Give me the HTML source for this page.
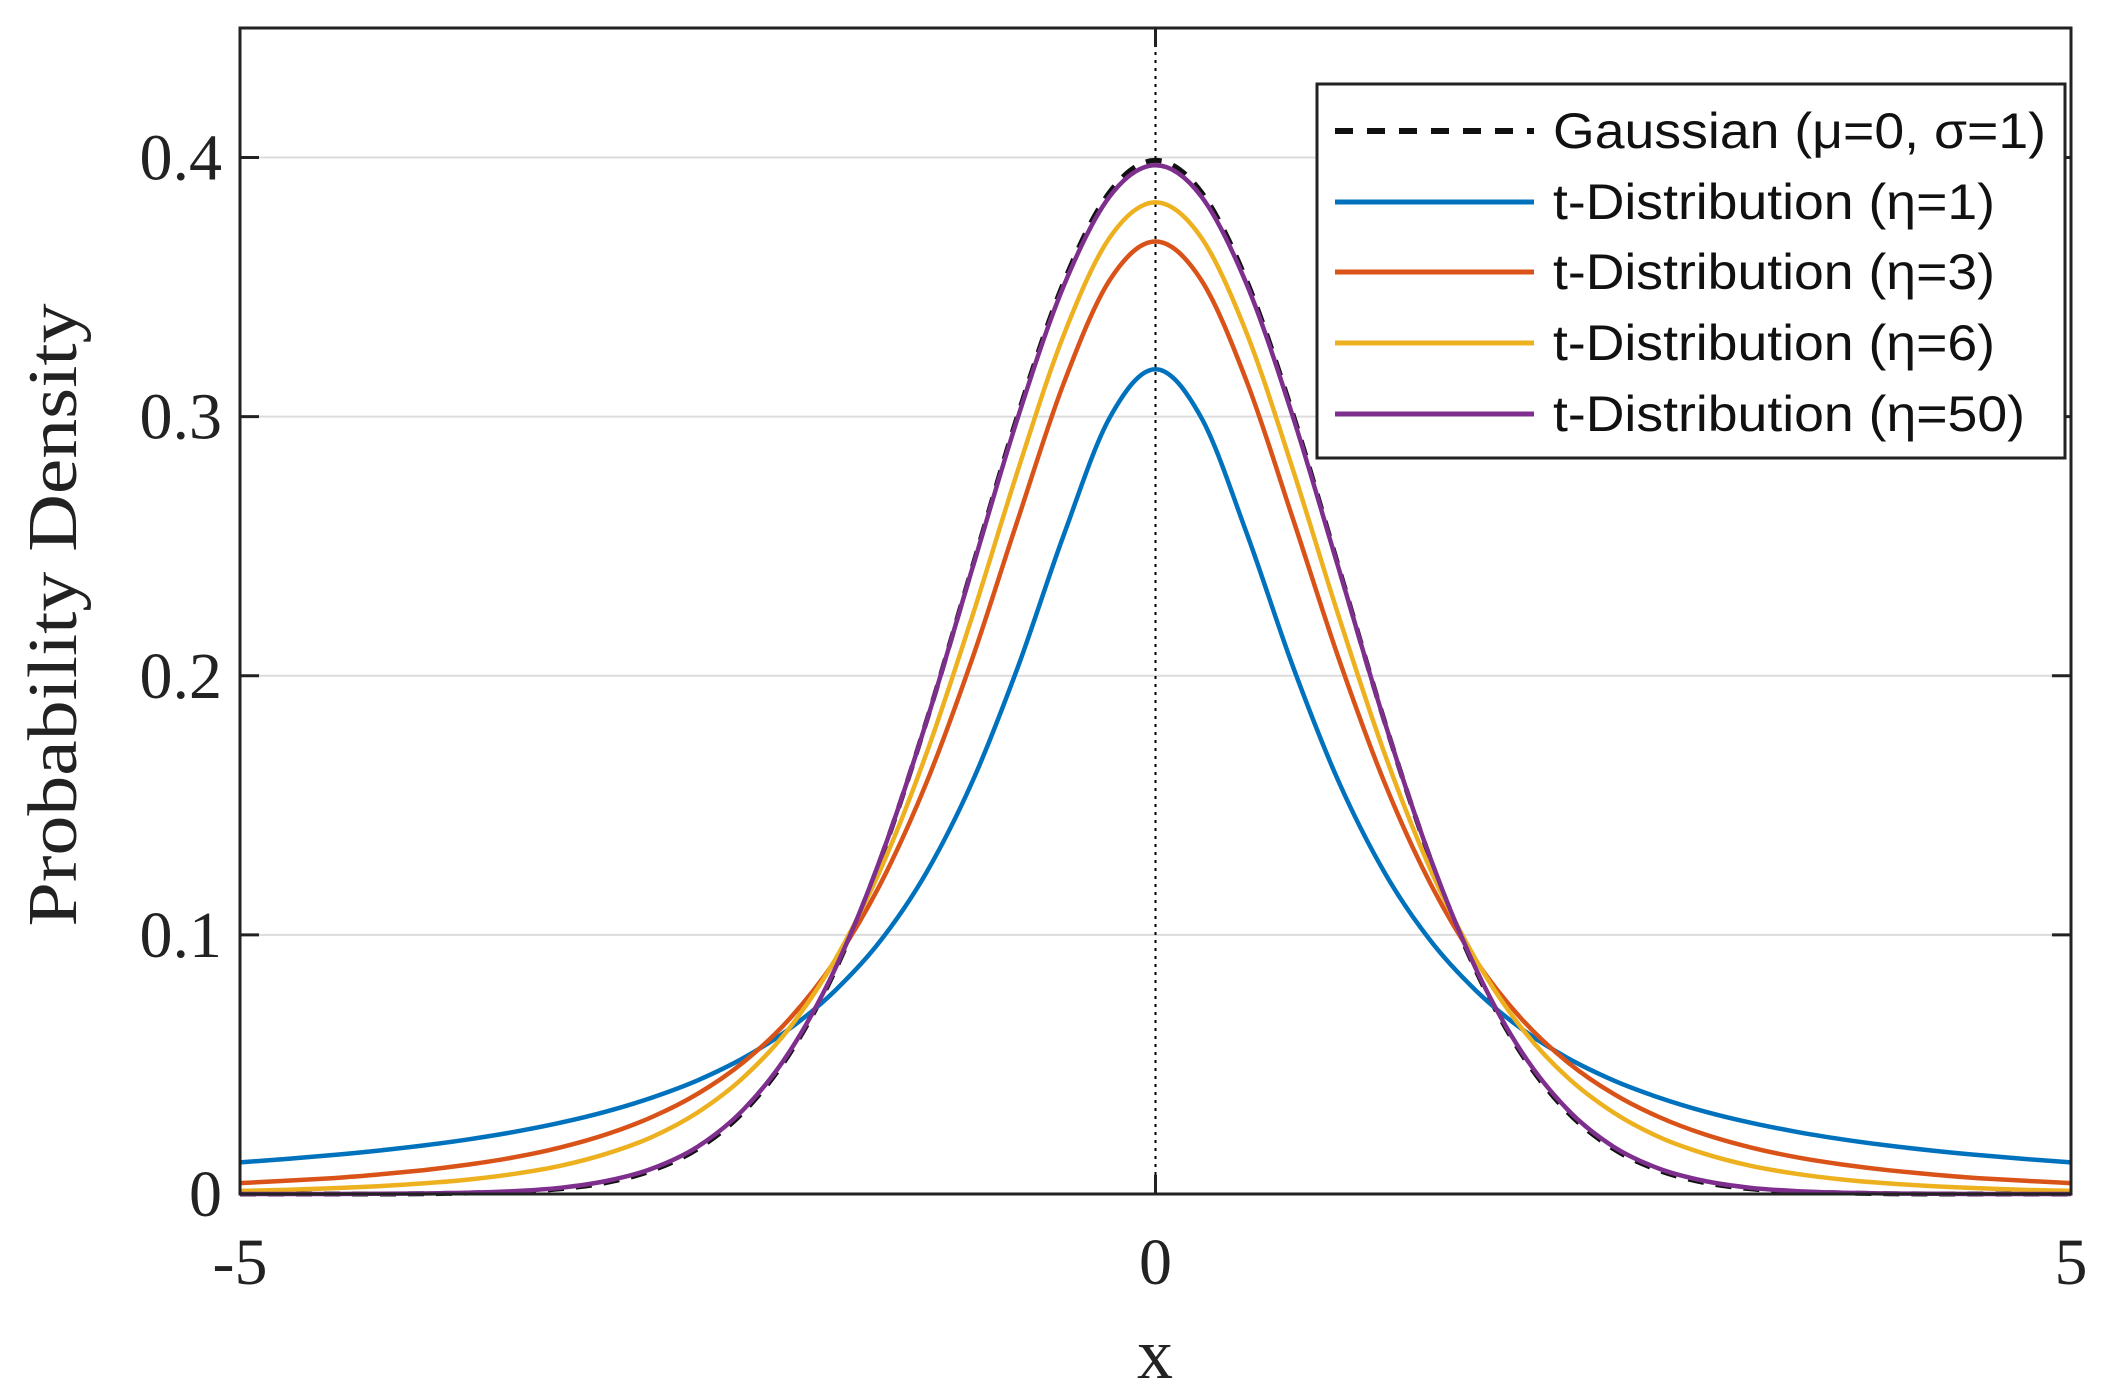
<!DOCTYPE html>
<html><head><meta charset="utf-8"><style>
html,body{margin:0;padding:0;background:#fff;}
svg{display:block;}
</style></head><body>
<svg id="chart" width="2114" height="1397" viewBox="0 0 2114 1397" xmlns="http://www.w3.org/2000/svg">
<rect width="2114" height="1397" fill="#fff"/>
<g id="grid"></g>
<line x1="1155.5" y1="28" x2="1155.5" y2="1194" stroke="#000" stroke-width="2" stroke-dasharray="3,5"/>
<g id="series"></g>
<rect x="240" y="28" width="1831" height="1166" fill="none" stroke="#222" stroke-width="3"/>
<g id="ticks"></g>
<text transform="translate(76,615) rotate(-90)" text-anchor="middle" font-family="Liberation Serif, serif" font-size="70" fill="#222" textLength="623" lengthAdjust="spacingAndGlyphs">Probability Density</text>
<text x="1155" y="1378" text-anchor="middle" font-family="Liberation Serif, serif" font-size="72" fill="#222">x</text>
<g>
<rect x="1317" y="84" width="748" height="374" fill="#fff" stroke="#222" stroke-width="3"/>
<g id="legend-items"></g>
</g>
</svg>
<script>
const xs = [-5,-4.75,-4.5,-4.25,-4,-3.75,-3.5,-3.25,-3,-2.75,-2.5,-2.25,-2,-1.75,-1.5,-1.25,-1,-0.75,-0.5,-0.25,0,0.25,0.5,0.75,1,1.25,1.5,1.75,2,2.25,2.5,2.75,3,3.25,3.5,3.75,4,4.25,4.5,4.75,5];
const gaussian = [0,0,0,0,0.0001,0.0004,0.0009,0.0020,0.0044,0.0091,0.0175,0.0317,0.0540,0.0863,0.1295,0.1826,0.2420,0.3011,0.3521,0.3867,0.3989,0.3867,0.3521,0.3011,0.2420,0.1826,0.1295,0.0863,0.0540,0.0317,0.0175,0.0091,0.0044,0.0020,0.0009,0.0004,0.0001,0,0,0,0];
const t1 = [0.0122,0.0135,0.0150,0.0167,0.0187,0.0211,0.0240,0.0275,0.0318,0.0372,0.0439,0.0525,0.0637,0.0785,0.0979,0.1242,0.1592,0.2037,0.2546,0.2996,0.3183,0.2996,0.2546,0.2037,0.1592,0.1242,0.0979,0.0785,0.0637,0.0525,0.0439,0.0372,0.0318,0.0275,0.0240,0.0211,0.0187,0.0167,0.0150,0.0135,0.0122];
const t3 = [0.0042,0.0051,0.0061,0.0075,0.0092,0.0114,0.0142,0.0180,0.0230,0.0297,0.0387,0.0509,0.0675,0.0900,0.1200,0.1589,0.2068,0.2607,0.3132,0.3527,0.3676,0.3527,0.3132,0.2607,0.2068,0.1589,0.1200,0.0900,0.0675,0.0509,0.0387,0.0297,0.0230,0.0180,0.0142,0.0114,0.0092,0.0075,0.0061,0.0051,0.0042];
const t6 = [0.0012,0.0016,0.0022,0.0030,0.0041,0.0056,0.0078,0.0109,0.0155,0.0220,0.0315,0.0450,0.0640,0.0904,0.1255,0.1702,0.2231,0.2797,0.3318,0.3691,0.3827,0.3691,0.3318,0.2797,0.2231,0.1702,0.1255,0.0904,0.0640,0.0450,0.0315,0.0220,0.0155,0.0109,0.0078,0.0056,0.0041,0.0030,0.0022,0.0016,0.0012];
const t50 = [0,0,0,0.0001,0.0002,0.0005,0.0011,0.0024,0.0050,0.0098,0.0183,0.0326,0.0548,0.0869,0.1298,0.1825,0.2415,0.3001,0.3507,0.3850,0.3970,0.3850,0.3507,0.3001,0.2415,0.1825,0.1298,0.0869,0.0548,0.0326,0.0183,0.0098,0.0050,0.0024,0.0011,0.0005,0.0002,0.0001,0,0,0];
const yTicks = [0,0.1,0.2,0.3,0.4];
const yTickLabels = ["0","0.1","0.2","0.3","0.4"];
const xTicks = [-5,0,5];
const xTickLabels = ["-5","0","5"];
const legendLabels = ["Gaussian (μ=0, σ=1)","t-Distribution (η=1)","t-Distribution (η=3)","t-Distribution (η=6)","t-Distribution (η=50)"];

const NS = "http://www.w3.org/2000/svg";
const L=240,R=2071,T=28,B=1194, XMIN=-5,XMAX=5,YMIN=0,YMAX=0.45;
const sx = v => L + (v-XMIN)/(XMAX-XMIN)*(R-L);
const sy = v => B - (v-YMIN)/(YMAX-YMIN)*(B-T);
function mk(tag, attrs, parent){const e=document.createElementNS(NS,tag);for(const k in attrs)e.setAttribute(k,attrs[k]);parent.appendChild(e);return e;}

const grid=document.getElementById('grid');
yTicks.forEach((v,i)=>{
  if(v===0) return;
  const g=mk('line',{x1:L,x2:R,y1:sy(v),y2:sy(v),stroke:'#dcdcdc','stroke-width':2},grid);
  
  
});

const ticks=document.getElementById('ticks');
yTicks.forEach((v,i)=>{
  const y=sy(v);
  const a=mk('line',{x1:L,x2:L+19,y1:y,y2:y,stroke:'#222','stroke-width':3},ticks);
  
  
  const b=mk('line',{x1:R-19,x2:R,y1:y,y2:y,stroke:'#222','stroke-width':3},ticks);
  
  
  const t=mk('text',{x:222,y:y+22,'text-anchor':'end','font-family':'Liberation Serif, serif','font-size':66,fill:'#222'},ticks);
  t.textContent=yTickLabels[i];
  
  
});
xTicks.forEach((v,i)=>{
  const x=sx(v);
  const a=mk('line',{x1:x,x2:x,y1:B,y2:B-19,stroke:'#222','stroke-width':3},ticks);
  
  
  const b=mk('line',{x1:x,x2:x,y1:T,y2:T+19,stroke:'#222','stroke-width':3},ticks);
  
  
  const t=mk('text',{x:x,y:1284,'text-anchor':'middle','font-family':'Liberation Serif, serif','font-size':66,fill:'#222'},ticks);
  t.textContent=xTickLabels[i];
  
  
});

function pathFor(vals){
  const p=xs.map((x,i)=>[sx(x),sy(vals[i])]);
  let d='M'+p[0][0].toFixed(1)+','+p[0][1].toFixed(1);
  for(let i=0;i<p.length-1;i++){
    const p0=p[Math.max(0,i-1)],p1=p[i],p2=p[i+1],p3=p[Math.min(p.length-1,i+2)];
    const c1=[p1[0]+(p2[0]-p0[0])/6,p1[1]+(p2[1]-p0[1])/6];
    const c2=[p2[0]-(p3[0]-p1[0])/6,p2[1]-(p3[1]-p1[1])/6];
    d+=' C'+c1[0].toFixed(1)+','+c1[1].toFixed(1)+' '+c2[0].toFixed(1)+','+c2[1].toFixed(1)+' '+p2[0].toFixed(1)+','+p2[1].toFixed(1);
  }
  return d;
}
const seriesDefs=[
  {vals:gaussian,color:'#111',dash:'16,12',name:'gaussian-curve'},
  {vals:t1,color:'#0072BD',dash:null,name:'t-eta-1-curve'},
  {vals:t3,color:'#D95319',dash:null,name:'t-eta-3-curve'},
  {vals:t6,color:'#EDB120',dash:null,name:'t-eta-6-curve'},
  {vals:t50,color:'#7E2F8E',dash:null,name:'t-eta-50-curve'}
];
const sg=document.getElementById('series');
seriesDefs.forEach(s=>{
  const a={d:pathFor(s.vals),fill:'none',stroke:s.color,'stroke-width':s.dash?5:4.5,'stroke-linejoin':'round'};
  if(s.dash)a['stroke-dasharray']=s.dash;
  const e=mk('path',a,sg);
  
  
});

const lg=document.getElementById('legend-items');
const rowY=[131,202,272,343,414];
const textW=[493,442,442,442,472];
legendLabels.forEach((lab,i)=>{
  const s=seriesDefs[i];
  const a={x1:1335,x2:1534,y1:rowY[i],y2:rowY[i],stroke:s.color,'stroke-width':s.dash?6:5};
  if(s.dash)a['stroke-dasharray']='18,14';
  const ln=mk('line',a,lg);
  
  
  const t=mk('text',{x:1553,y:rowY[i]+17,'font-family':'Liberation Sans, sans-serif','font-size':50,fill:'#111',textLength:textW[i],lengthAdjust:'spacingAndGlyphs'},lg);
  t.textContent=lab;
  
  
});
</script>
</body></html>
